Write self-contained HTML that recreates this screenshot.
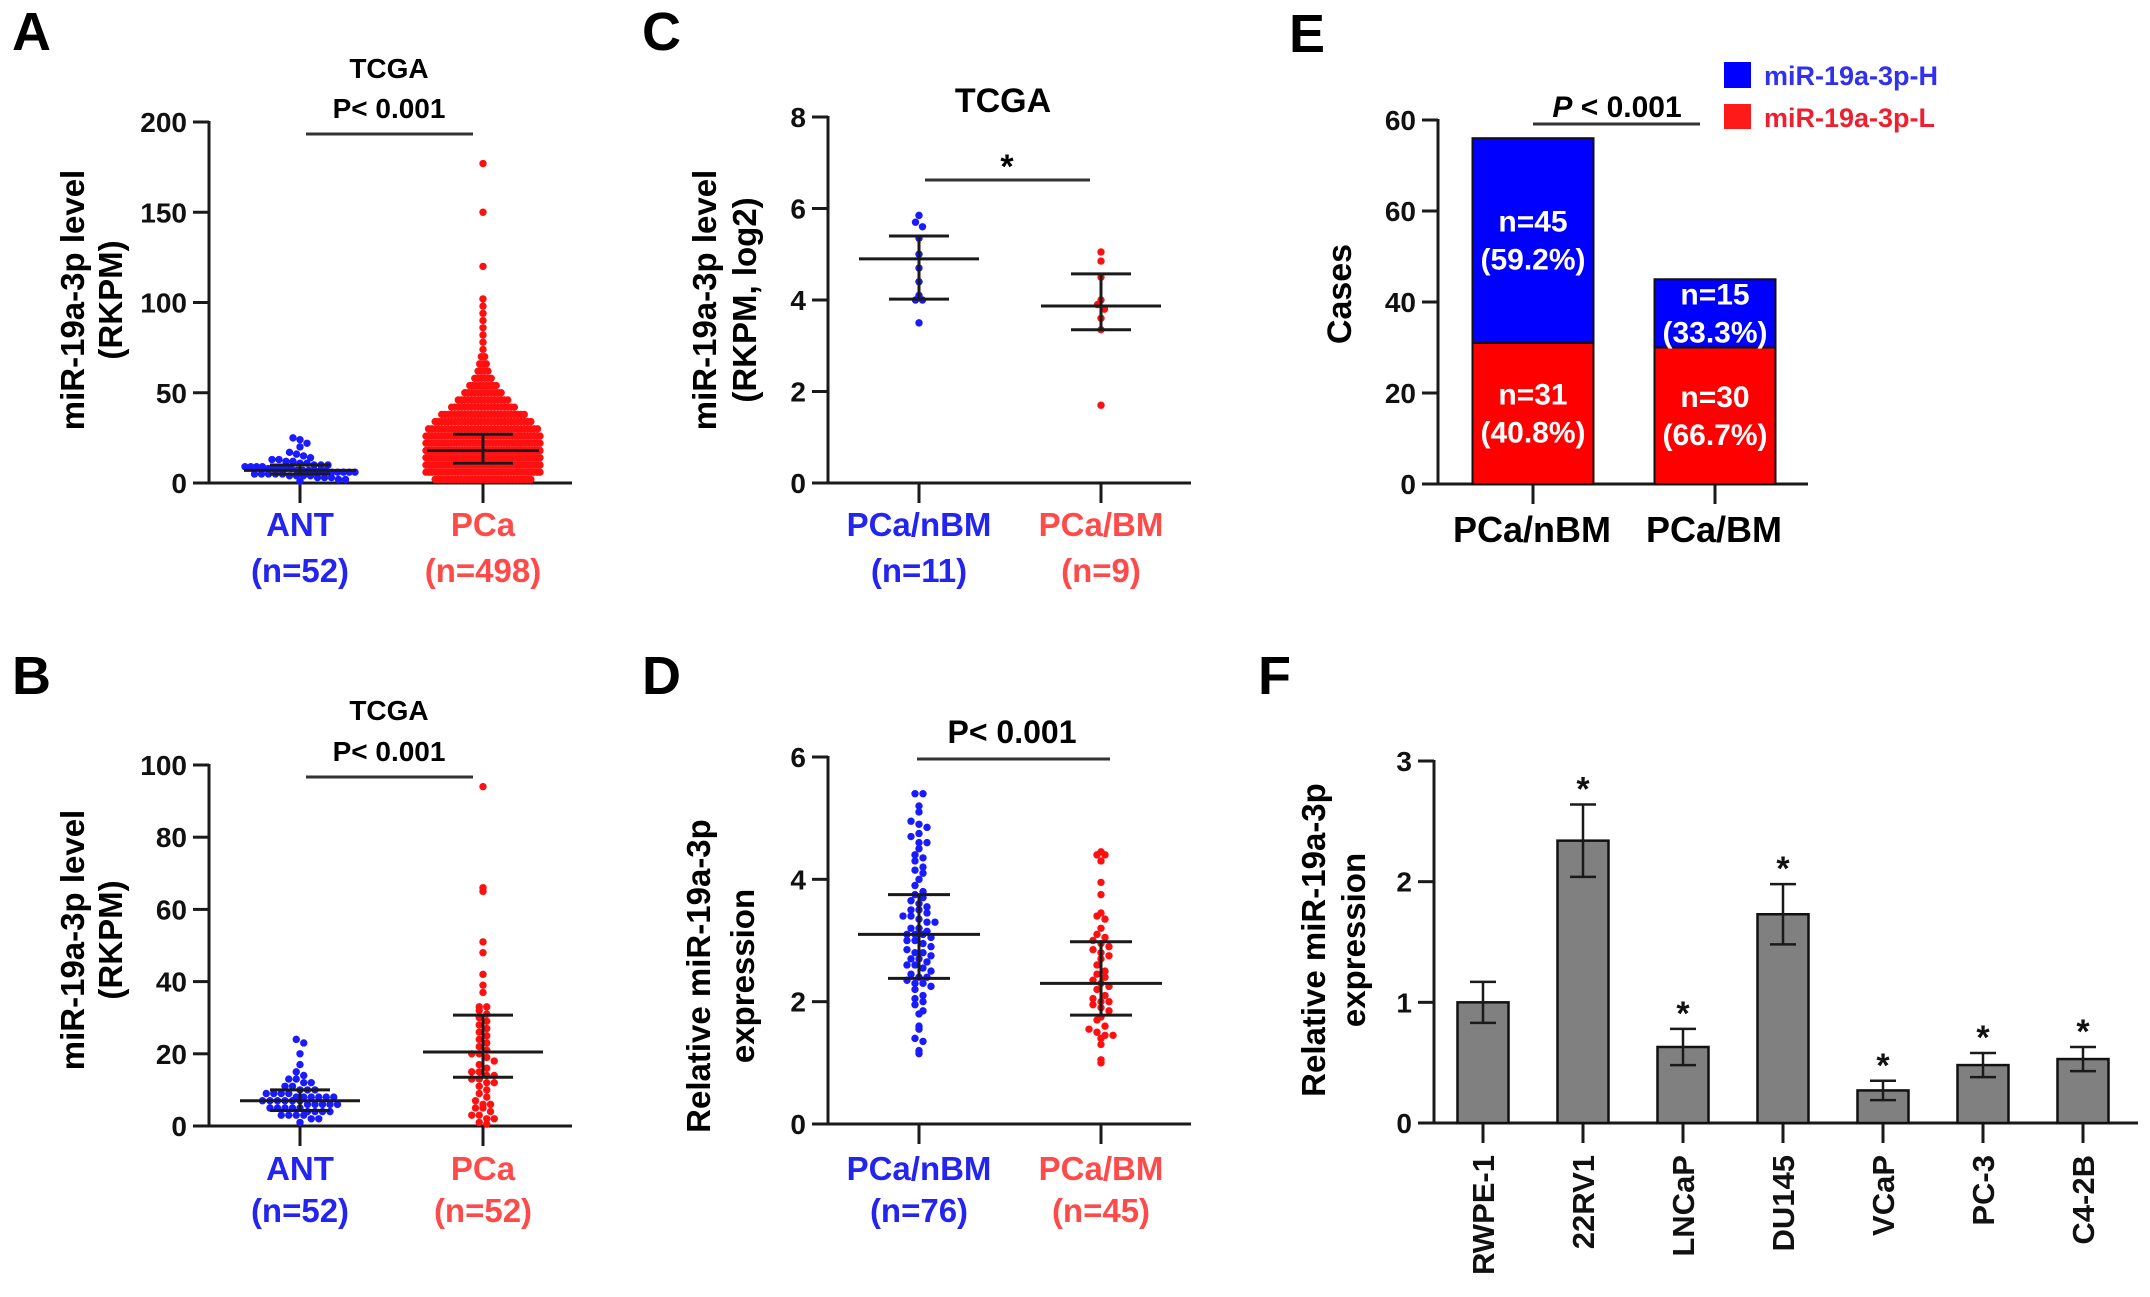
<!DOCTYPE html>
<html><head><meta charset="utf-8"><style>
html,body{margin:0;padding:0;background:#fff;}
svg{display:block;font-family:"Liberation Sans",Arial,sans-serif;font-weight:bold;}
</style></head><body>
<svg id="fig" width="2150" height="1297" viewBox="0 0 2150 1297" xmlns="http://www.w3.org/2000/svg">
<rect width="2150" height="1297" fill="#fff"/>
<text x="12" y="50" font-size="54">A</text>
<text x="12" y="694" font-size="54">B</text>
<text x="642" y="50" font-size="54">C</text>
<text x="642" y="694" font-size="54">D</text>
<text x="1289" y="52" font-size="54">E</text>
<text x="1258" y="694" font-size="54">F</text>

<text x="389" y="78" font-size="28" text-anchor="middle">TCGA</text>
<text x="389" y="118" font-size="28" text-anchor="middle">P&lt; 0.001</text>
<g transform="translate(84,300) rotate(-90)"><text x="0" y="0" font-size="33" text-anchor="middle">miR-19a-3p level</text><text x="0" y="38" font-size="33" text-anchor="middle">(RKPM)</text></g>
<text x="300" y="536" font-size="33" fill="#2424f0" text-anchor="middle">ANT</text>
<text x="300" y="582" font-size="33" fill="#2424f0" text-anchor="middle">(n=52)</text>
<text x="483" y="536" font-size="33" fill="#ff4a4a" text-anchor="middle">PCa</text>
<text x="483" y="582" font-size="33" fill="#ff4a4a" text-anchor="middle">(n=498)</text>

<text x="389" y="720" font-size="28" text-anchor="middle">TCGA</text>
<text x="389" y="761" font-size="28" text-anchor="middle">P&lt; 0.001</text>
<g transform="translate(84,940) rotate(-90)"><text x="0" y="0" font-size="33" text-anchor="middle">miR-19a-3p level</text><text x="0" y="38" font-size="33" text-anchor="middle">(RKPM)</text></g>
<text x="300" y="1180" font-size="33" fill="#2424f0" text-anchor="middle">ANT</text>
<text x="300" y="1222" font-size="33" fill="#2424f0" text-anchor="middle">(n=52)</text>
<text x="483" y="1180" font-size="33" fill="#ff4a4a" text-anchor="middle">PCa</text>
<text x="483" y="1222" font-size="33" fill="#ff4a4a" text-anchor="middle">(n=52)</text>

<text x="1003" y="112" font-size="34" text-anchor="middle">TCGA</text>
<text x="1007" y="178" font-size="34" text-anchor="middle">*</text>
<g transform="translate(716,300) rotate(-90)"><text x="0" y="0" font-size="33" text-anchor="middle">miR-19a-3p level</text><text x="0" y="40" font-size="33" text-anchor="middle">(RKPM, log2)</text></g>
<text x="919" y="536" font-size="33" fill="#2424f0" text-anchor="middle">PCa/nBM</text>
<text x="919" y="582" font-size="33" fill="#2424f0" text-anchor="middle">(n=11)</text>
<text x="1101" y="536" font-size="33" fill="#ff4a4a" text-anchor="middle">PCa/BM</text>
<text x="1101" y="582" font-size="33" fill="#ff4a4a" text-anchor="middle">(n=9)</text>

<text x="1012" y="743" font-size="32" text-anchor="middle">P&lt; 0.001</text>
<g transform="translate(710,976) rotate(-90)"><text x="0" y="0" font-size="33" text-anchor="middle">Relative miR-19a-3p</text><text x="0" y="44" font-size="33" text-anchor="middle">expression</text></g>
<text x="919" y="1180" font-size="33" fill="#2424f0" text-anchor="middle">PCa/nBM</text>
<text x="919" y="1222" font-size="33" fill="#2424f0" text-anchor="middle">(n=76)</text>
<text x="1101" y="1180" font-size="33" fill="#ff4a4a" text-anchor="middle">PCa/BM</text>
<text x="1101" y="1222" font-size="33" fill="#ff4a4a" text-anchor="middle">(n=45)</text>

<text x="1617" y="117" font-size="30" text-anchor="middle"><tspan font-style="italic">P</tspan> &lt; 0.001</text>
<text transform="translate(1351,294) rotate(-90)" font-size="34" text-anchor="middle">Cases</text>
<text x="1532" y="542" font-size="36" text-anchor="middle">PCa/nBM</text>
<text x="1714" y="542" font-size="36" text-anchor="middle">PCa/BM</text>
<rect x="1724" y="62" width="27" height="26" fill="#0000ff"/>
<text x="1764" y="85" font-size="27" fill="#3030ee">miR-19a-3p-H</text>
<rect x="1724" y="104" width="27" height="25" fill="#ff1a1a"/>
<text x="1764" y="127" font-size="27" fill="#ee2030">miR-19a-3p-L</text>

<g transform="translate(1325,940) rotate(-90)"><text x="0" y="0" font-size="33" text-anchor="middle">Relative miR-19a-3p</text><text x="0" y="40" font-size="33" text-anchor="middle">expression</text></g>

<g id="marks"></g>
</svg>
<script>
const aAntValues = [25,24,22,20,17,16,15,14,13,13,12,12,11,11,10,10,10,9,9,9,9,8,8,8,8,8,7,7,7,7,7,7,6,6,6,6,6,5,5,5,5,5,4,4,4,4,3,3,3,2,2,1];
const aPcaBinValues = [2,6,10,14,18,22,26,30,34,38,42,46,50,54,58,62,66,70,74,78,82,86,90,94,98,102,120,150,177];
const aPcaBinCounts = [30,40,45,48,45,42,38,34,30,26,20,16,12,9,6,4,3,2,1,1,1,1,1,1,1,1,1,1,1];
const aMeans = [7,18];
const aLow = [5,11];
const aHigh = [10,27];

const bAntValues = [24,23,20,17,15,14,13,13,12,12,11,11,10,10,10,9,9,9,9,8,8,8,8,8,8,7,7,7,7,7,7,6,6,6,6,6,5,5,5,5,5,4,4,4,4,3,3,3,3,2,2,1];
const bPcaValues = [94,66,65,51,48,42,39,37,33,33,32,31,30,29,28,27,26,25,24,23,22,21,20,20,19,18,17,16,15,15,14,14,13,13,12,12,11,10,9,8,7,6,6,5,5,4,3,3,2,2,1,0.5];
const bMeans = [7,20.5];
const bLow = [4.3,13.5];
const bHigh = [10,30.7];

const cNbmValues = [5.85,5.7,5.6,5.35,5.0,4.7,4.4,4.1,4.0,4.0,3.5];
const cBmValues = [5.05,4.85,4.5,4.0,3.9,3.8,3.6,3.35,1.7];
const cMeans = [4.9,3.87];
const cLow = [4.02,3.35];
const cHigh = [5.4,4.57];

const dNbmValues = [5.4,5.4,5.2,5.1,4.95,4.9,4.85,4.75,4.7,4.6,4.6,4.5,4.4,4.35,4.3,4.2,4.15,4.1,4.0,3.9,3.8,3.75,3.7,3.65,3.6,3.55,3.5,3.5,3.45,3.4,3.4,3.35,3.3,3.3,3.2,3.2,3.15,3.1,3.1,3.1,3.05,3.0,3.0,2.95,2.9,2.85,2.8,2.8,2.75,2.7,2.7,2.65,2.6,2.6,2.55,2.5,2.45,2.4,2.4,2.35,2.3,2.3,2.25,2.2,2.1,2.05,2.0,1.95,1.85,1.8,1.6,1.55,1.4,1.35,1.2,1.15];
const dBmValues = [4.45,4.4,4.4,4.3,3.95,3.75,3.45,3.4,3.35,3.2,3.1,3.05,3.0,2.95,2.9,2.85,2.8,2.75,2.7,2.6,2.5,2.45,2.4,2.35,2.3,2.25,2.2,2.1,2.05,2.0,2.0,1.95,1.9,1.85,1.75,1.7,1.6,1.55,1.5,1.45,1.45,1.4,1.3,1.05,1.0];
const dMeans = [3.1,2.3];
const dLow = [2.38,1.78];
const dHigh = [3.75,2.98];

const eCategories = ['PCa/nBM','PCa/BM'];
const eLowCounts = [31,30];
const eHighCounts = [45,15];
const eLowLabels = ['(40.8%)','(66.7%)'];
const eHighLabels = ['(59.2%)','(33.3%)'];
const eTickValues = [0,20,40,60,80];
const eTickLabels = ['0','20','40','60','60'];

const fCategories = ['RWPE-1','22RV1','LNCaP','DU145','VCaP','PC-3','C4-2B'];
const fValues = [1.0,2.34,0.63,1.73,0.27,0.48,0.53];
const fErrors = [0.17,0.30,0.15,0.25,0.08,0.10,0.10];
const fStars = [false,true,true,true,true,true,true];
const fTicks = [0,1,2,3];

const NS='http://www.w3.org/2000/svg';
const root=document.getElementById('marks');
function mk(tag,attrs){const e=document.createElementNS(NS,tag);for(const k in attrs)e.setAttribute(k,attrs[k]);root.appendChild(e);return e;}
function ln(x1,y1,x2,y2,w,name,col){
  const e=mk('line',{x1:x1,y1:y1,x2:x2,y2:y2,stroke:col||'#1a1a1a','stroke-width':w});
  
  
  return e;
}
function txt(x,y,s,size,anchor,name,fill){
  const e=mk('text',{x:x,y:y,'font-size':size,'text-anchor':anchor,fill:fill||'#111'});
  e.textContent=s;
  
  
  return e;
}
function yScale(ax){return v=>ax.y0-(v/ax.max)*(ax.y0-ax.yTop);}

function axes(ax,prefix,ticks,labels){
  const y=yScale(ax);
  ln(ax.x,ax.yTop-1,ax.x,ax.y0+1.5,3,prefix+'-y-axis');
  ln(ax.x-1.5,ax.y0,ax.xEnd,ax.y0,3,prefix+'-x-axis');
  ticks.forEach((t,i)=>{
    ln(ax.x-16,y(t),ax.x,y(t),3,prefix+'-y-tick');
    txt(ax.x-22,y(t)+10,labels?labels[i]:String(t),28,'end',prefix+'-y-tick-label');
  });
  ax.cats.forEach(cx=>ln(cx,ax.y0,cx,ax.y0+20,3,prefix+'-x-tick'));
}

function swarm(values,cx,ax,color,name,dotD,maxW,perDot){
  const y=yScale(ax);
  const bins={};
  values.forEach(v=>{const py=y(v);const k=Math.round(py/dotD);(bins[k]=bins[k]||[]).push(py);});
  for(const k in bins){
    const arr=bins[k];const n=arr.length;
    const w=Math.min(maxW,(n-1)*(perDot||dotD));
    const step=n>1?w/(n-1):0;
    arr.forEach((py,i)=>{
      const c=mk('circle',{cx:cx+(i-(n-1)/2)*step,cy:py,r:3.7,fill:color});
      
      
    });
  }
}

function meanSd(ax,prefix,means,lows,highs,halfMean,halfCap){
  const y=yScale(ax);
  means.forEach((m,i)=>{
    const cx=ax.cats[i];
    ln(cx,y(lows[i]),cx,y(highs[i]),3,prefix+'-sd-line');
    ln(cx-halfMean,y(m),cx+halfMean,y(m),3,prefix+'-mean-line');
    ln(cx-halfCap,y(lows[i]),cx+halfCap,y(lows[i]),3,prefix+'-sd-cap-low');
    ln(cx-halfCap,y(highs[i]),cx+halfCap,y(highs[i]),3,prefix+'-sd-cap-high');
  });
}

const axA={x:209,xEnd:572,y0:483,yTop:122,max:200,cats:[300,483]};
axes(axA,'panel-a',[0,50,100,150,200]);
swarm(aAntValues,axA.cats[0],axA,'#1a1aff','ant-dot',7,110);
const aPcaValues=[];aPcaBinValues.forEach((v,i)=>{for(let k=0;k<aPcaBinCounts[i];k++)aPcaValues.push(v);});
swarm(aPcaValues,axA.cats[1],axA,'#ff1010','pca-dot',7,114,3.3);
meanSd(axA,'panel-a',aMeans,aLow,aHigh,56,30);
ln(306,134,473,134,3,'panel-a-significance-bar','#333');

const axB={x:209,xEnd:572,y0:1126,yTop:765,max:100,cats:[300,483]};
axes(axB,'panel-b',[0,20,40,60,80,100]);
swarm(bAntValues,axB.cats[0],axB,'#1a1aff','ant-dot',7.5,90);
swarm(bPcaValues,axB.cats[1],axB,'#ff1010','pca-dot',7.5,60);
meanSd(axB,'panel-b',bMeans,bLow,bHigh,60,30);
ln(306,777,473,777,3,'panel-b-significance-bar','#333');

const axC={x:828,xEnd:1191,y0:483,yTop:117,max:8,cats:[919,1101]};
axes(axC,'panel-c',[0,2,4,6,8]);
swarm(cNbmValues,axC.cats[0],axC,'#1a1aff','nbm-dot',7,20);
swarm(cBmValues,axC.cats[1],axC,'#ff1010','bm-dot',7,20);
meanSd(axC,'panel-c',cMeans,cLow,cHigh,60,30);
ln(925,180,1090,180,3,'panel-c-significance-bar','#333');

const axD={x:828,xEnd:1191,y0:1124,yTop:757,max:6,cats:[919,1101]};
axes(axD,'panel-d',[0,2,4,6]);
swarm(dNbmValues,axD.cats[0],axD,'#1a1aff','nbm-dot',8,56);
swarm(dBmValues,axD.cats[1],axD,'#ff1010','bm-dot',8,40);
meanSd(axD,'panel-d',dMeans,dLow,dHigh,61,31);
ln(917,759,1110,759,3,'panel-d-significance-bar','#333');

const axE={x:1438,xEnd:1808,y0:484,yTop:120,max:80,cats:[1533,1715]};
axes(axE,'panel-e',eTickValues,eTickLabels);
(function(){
  const y=yScale(axE);const bw=121;
  eCategories.forEach((c,i)=>{
    const cx=axE.cats[i];const lowTop=y(eLowCounts[i]);const top=y(eLowCounts[i]+eHighCounts[i]);
    const rl=mk('rect',{x:cx-bw/2,y:lowTop,width:bw,height:axE.y0-lowTop,fill:'#ff0000',stroke:'#111','stroke-width':2});
    
    
    const rh=mk('rect',{x:cx-bw/2,y:top,width:bw,height:lowTop-top,fill:'#0000ff',stroke:'#111','stroke-width':2});
    
    
    const hm=(top+lowTop)/2, lm=(lowTop+axE.y0)/2;
    txt(cx,hm-20+11,'n='+eHighCounts[i],30,'middle','bar-high-count','#fff');
    txt(cx,hm+18+11,eHighLabels[i],30,'middle','bar-high-percent','#fff');
    txt(cx,lm-20+11,'n='+eLowCounts[i],30,'middle','bar-low-count','#fff');
    txt(cx,lm+18+11,eLowLabels[i],30,'middle','bar-low-percent','#fff');
  });
})();
ln(1533,124,1700,124,3,'panel-e-significance-bar','#333');

const axF={x:1434,xEnd:2138,y0:1123,yTop:761,max:3,cats:fCategories.map((c,i)=>1483+i*100)};
axes(axF,'panel-f',fTicks);
(function(){
  const y=yScale(axF);const bw=51;
  fValues.forEach((v,i)=>{
    const cx=axF.cats[i];
    const r=mk('rect',{x:cx-bw/2,y:y(v),width:bw,height:axF.y0-y(v),fill:'#808080',stroke:'#111','stroke-width':2.5});
    
    
    ln(cx,y(v-fErrors[i]),cx,y(v+fErrors[i]),2.5,'error-bar');
    ln(cx-13,y(v-fErrors[i]),cx+13,y(v-fErrors[i]),2.5,'error-cap-low');
    ln(cx-13,y(v+fErrors[i]),cx+13,y(v+fErrors[i]),2.5,'error-cap-high');
    if(fStars[i]) txt(cx,y(v+fErrors[i])-4,'*',34,'middle','significance-star');
    const t=mk('text',{transform:'translate('+(cx+11)+','+(axF.y0+32)+') rotate(-90)','font-size':31,'text-anchor':'end',fill:'#111'});
    t.textContent=fCategories[i];
    
    
  });
})();
</script>
</body></html>
